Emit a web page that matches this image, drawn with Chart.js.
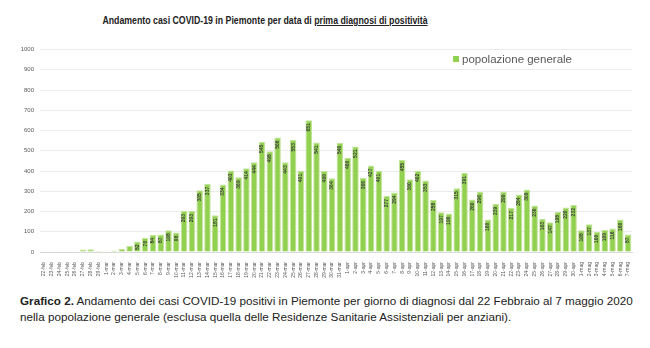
<!DOCTYPE html>
<html>
<head>
<meta charset="utf-8">
<script src="https://cdn.jsdelivr.net/npm/chart.js@4/dist/chart.umd.min.js"></script>
<style>
  html, body { margin: 0; padding: 0; background: #fff; }
  #wrap { position: relative; width: 650px; height: 348px; overflow: hidden; font-family: "Liberation Sans", Arial, sans-serif; }
  #title { position: absolute; top: 15px; left: 0; width: 530px; text-align: center; font-weight: bold; font-size: 10px; color: #222; white-space: nowrap; transform: scaleX(0.876); transform-origin: 265px 0; }
  #chartBox { position: absolute; left: 0; top: 40px; width: 650px; height: 245px; }
  #legend { position: absolute; left: 453px; top: 53px; font-size: 11.5px; color: #595959; white-space: nowrap; }
  #legend .sw { display: inline-block; width: 6px; height: 6px; background: #92D050; margin-right: 3px; vertical-align: 1px; }
  #caption { position: absolute; left: 20px; top: 293px; font-size: 11.7px; line-height: 16px; color: #222; white-space: nowrap; }
</style>
</head>
<body>
<div id="wrap">
  <div id="title">Andamento casi COVID-19 in Piemonte per data di <u>prima diagnosi di positività</u></div>
  <div id="chartBox"><canvas id="chart"></canvas></div>
  <div id="legend"><span class="sw"></span>popolazione generale</div>
  <div id="caption"><b>Grafico 2.</b> Andamento dei casi COVID-19 positivi in Piemonte per giorno di diagnosi dal 22 Febbraio al 7 maggio 2020<br>nella popolazione generale (esclusa quella delle Residenze Sanitarie Assistenziali per anziani).</div>
</div>
<script>
// Giorni di diagnosi (22 febbraio - 7 maggio 2020)
const days = [
  '22-feb','23-feb','24-feb','25-feb','26-feb','27-feb','28-feb','29-feb',
  '1-mar','2-mar','3-mar','4-mar','5-mar','6-mar','7-mar','8-mar','9-mar','10-mar',
  '11-mar','12-mar','13-mar','14-mar','15-mar','16-mar','17-mar','18-mar','19-mar','20-mar',
  '21-mar','22-mar','23-mar','24-mar','25-mar','26-mar','27-mar','28-mar','29-mar','30-mar','31-mar',
  '1-apr','2-apr','3-apr','4-apr','5-apr','6-apr','7-apr','8-apr','9-apr','10-apr',
  '11-apr','12-apr','13-apr','14-apr','15-apr','16-apr','17-apr','18-apr','19-apr','20-apr',
  '21-apr','22-apr','23-apr','24-apr','25-apr','26-apr','27-apr','28-apr','29-apr','30-apr',
  '1-mag','2-mag','3-mag','4-mag','5-mag','6-mag','7-mag'
];

// Casi positivi per giorno di prima diagnosi, popolazione generale
const cases = [
  1, 0, 1, 1, 2, 12, 13, 5,
  4, 8, 15, 31, 52, 70, 84, 87, 108, 96,
  203, 203, 305, 337, 181, 334, 403, 369, 414, 444,
  545, 498, 566, 443, 553, 401, 651, 541, 400, 364, 540,
  466, 521, 366, 427, 401, 277, 294, 455, 360, 402,
  353, 258, 197, 190, 315, 391, 260, 296, 160, 239,
  299, 217, 284, 309, 230, 163, 147, 198, 220, 232,
  108, 137, 100, 109, 116, 160, 87
];

const yTicks = [0, 100, 200, 300, 400, 500, 600, 700, 800, 900, 1000];

// Etichette dei valori, ruotate all'interno di ogni barra
const valueLabels = {
  id: 'valueLabels',
  afterDatasetsDraw(chart) {
    const ctx = chart.ctx;
    const meta = chart.getDatasetMeta(0);
    ctx.save();
    ctx.font = 'bold 5px "Liberation Sans", Arial, sans-serif';
    ctx.fillStyle = '#3d3d3d';
    ctx.textAlign = 'right';
    ctx.textBaseline = 'middle';
    meta.data.forEach((bar, i) => {
      const v = cases[i];
      if (v < 40) return;
      ctx.save();
      ctx.translate(bar.x, bar.y + 3);
      ctx.rotate(-Math.PI / 2);
      ctx.fillText(String(v), 0, 0);
      ctx.restore();
    });
    ctx.restore();
  }
};

new Chart(document.getElementById('chart'), {
  type: 'bar',
  data: {
    labels: days,
    datasets: [{
      label: 'popolazione generale',
      data: cases,
      backgroundColor: '#92D050',
      borderColor: '#C3E49A',
      borderWidth: 1,
      barPercentage: 0.84,
      categoryPercentage: 1.0
    }]
  },
  options: {
    responsive: true,
    maintainAspectRatio: false,
    animation: false,
    layout: { padding: { top: 4, right: 18, left: 0, bottom: 0 } },
    plugins: {
      legend: { display: false },
      tooltip: { enabled: false }
    },
    scales: {
      x: {
        grid: { display: false },
        border: { color: '#d9d9d9' },
        ticks: {
          autoSkip: false,
          maxRotation: 90,
          minRotation: 90,
          padding: 2,
          color: '#595959',
          font: { size: 5, family: '"Liberation Sans", Arial, sans-serif' }
        },
        afterFit(scale) { scale.height = 33; }
      },
      y: {
        min: 0,
        max: 1000,
        afterBuildTicks(scale) { scale.ticks = yTicks.map(v => ({ value: v })); },
        grid: { color: '#ececec', drawTicks: false },
        border: { display: false },
        ticks: {
          padding: 6,
          color: '#595959',
          font: { size: 6, family: '"Liberation Sans", Arial, sans-serif' },
          callback: (v) => String(v)
        },
        afterFit(scale) { scale.width = 40; }
      }
    }
  },
  plugins: [valueLabels]
});
</script>
</body>
</html>
